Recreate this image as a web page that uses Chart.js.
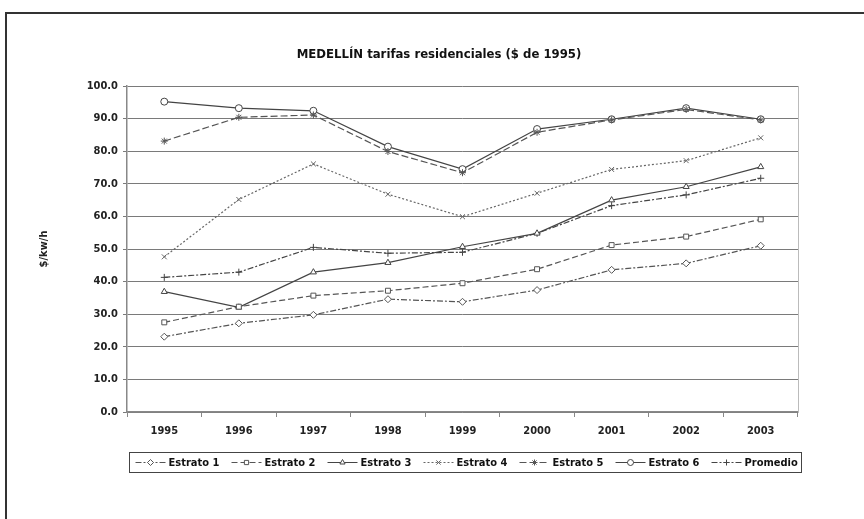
<!DOCTYPE html>
<html>
<head>
<meta charset="utf-8">
<script src="https://cdn.jsdelivr.net/npm/chart.js"></script>
<style>
body{margin:0;background:#fff;overflow:hidden}
#frame{position:absolute;left:5px;top:12px;width:900px;height:560px;border:2px solid #333}
#wrap{position:absolute;left:0;top:0;width:864px;height:519px}
</style>
</head>
<body>
<div id="frame"></div>
<div id="wrap"><canvas id="myChart"></canvas></div>
<script>
const years=['1995','1996','1997','1998','1999','2000','2001','2002','2003']
const estrato1=[23.1,27.2,29.8,34.6,33.8,37.4,43.6,45.6,51.0]
const estrato2=[27.5,32.3,35.7,37.2,39.5,43.8,51.2,53.8,59.1]
const estrato3=[36.9,32.1,42.9,45.8,50.7,54.8,65.0,69.1,75.2]
const estrato4=[47.6,65.2,76.1,66.8,59.9,67.1,74.4,77.1,84.1]
const estrato5=[83.1,90.4,91.1,79.9,73.4,85.8,89.6,92.8,89.6]
const estrato6=[95.2,93.2,92.4,81.4,74.5,86.8,89.8,93.2,89.8]
const promedio=[41.3,42.9,50.5,48.7,49.0,54.8,63.3,66.6,71.7]
const yTicks=[0,10,20,30,40,50,60,70,80,90,100]

const FONT="'Liberation Sans Narrow','DejaVu Sans Condensed','Arial Narrow',sans-serif"
Chart.defaults.font.family=FONT
Chart.defaults.font.weight='bold'
Chart.defaults.font.size=11
Chart.defaults.color='#222'

function serie(label,data,style,dash,color){
    return {
        label:label,
        data:data,
        borderColor:color,
        backgroundColor:'#fff',
        borderWidth:1.2,
        borderDash:dash,
        pointStyle:style,
        pointRadius:3.5,
        pointBorderColor:color,
        pointBackgroundColor:'#fff',
        pointBorderWidth:1,
        tension:0,
        fill:false
    }
}

// title, right border and legend box drawn by hand
const extras={
    id:'extras',
    afterDraw(chart){
        const ctx=chart.ctx
        const a=chart.chartArea
        ctx.save()
        ctx.strokeStyle='#bbb'
        ctx.lineWidth=1
        ctx.beginPath()
        ctx.moveTo(Math.round(a.right)+0.5,a.top)
        ctx.lineTo(Math.round(a.right)+0.5,a.bottom)
        ctx.stroke()

        ctx.fillStyle='#111'
        ctx.font='bold 13px '+FONT
        ctx.textAlign='center'
        ctx.textBaseline='middle'
        ctx.fillText('MEDELLÍN tarifas residenciales ($ de 1995)',439,55)

        // legend
        const bx=129.5, by=452.5, bw=672, bh=20
        ctx.strokeStyle='#444'
        ctx.lineWidth=1
        ctx.strokeRect(bx,by,bw,bh)
        const cy=by+bh/2
        ctx.font='bold 11px '+FONT
        ctx.textAlign='left'
        chart.data.datasets.forEach(function(ds,i){
            const x0=bx+6+i*96
            ctx.strokeStyle=ds.borderColor
            ctx.lineWidth=1
            ctx.setLineDash(ds.borderDash)
            ctx.beginPath()
            ctx.moveTo(x0,cy)
            ctx.lineTo(x0+30,cy)
            ctx.stroke()
            ctx.setLineDash([])
            ctx.fillStyle='#fff'
            Chart.helpers.drawPoint(ctx,{pointStyle:ds.pointStyle,radius:3,borderWidth:1,rotation:0},x0+15,cy)
            ctx.fillStyle='#111'
            ctx.fillText(ds.label,x0+33,cy+0.5)
        })
        ctx.restore()
    }
}

const chart=new Chart(document.getElementById('myChart').getContext('2d'),{
    type:'line',
    data:{
        labels:years,
        datasets:[
            serie('Estrato 1',estrato1,'rectRot',[6,2,2,2],'#555'),
            serie('Estrato 2',estrato2,'rect',[6,3],'#555'),
            serie('Estrato 3',estrato3,'triangle',[],'#444'),
            serie('Estrato 4',estrato4,'crossRot',[2,2],'#666'),
            serie('Estrato 5',estrato5,'star',[7,3],'#555'),
            serie('Estrato 6',estrato6,'circle',[],'#444'),
            serie('Promedio',promedio,'cross',[6,2,2,2],'#444')
        ]
    },
    options:{
        responsive:true,
        maintainAspectRatio:false,
        animation:false,
        layout:{padding:{left:38,right:66,top:86,bottom:77}},
        plugins:{
            legend:{display:false},
            title:{display:false},
            tooltip:{enabled:false}
        },
        scales:{
            x:{
                offset:true,
                grid:{offset:true,drawOnChartArea:false,drawTicks:true,tickLength:5,color:'#888',lineWidth:1},
                border:{color:'#888',width:1.5},
                ticks:{padding:8,font:{size:11,weight:'bold'},color:'#222',maxRotation:0},
                afterFit(scale){scale.height=30}
            },
            y:{
                min:0,
                max:100,
                afterBuildTicks(scale){scale.ticks=yTicks.map(v=>({value:v}))},
                grid:{color:'#7a7a7a',lineWidth:1,tickLength:4},
                border:{color:'#888',width:1.5},
                ticks:{padding:5,font:{size:11,weight:'bold'},color:'#222',callback:v=>v.toFixed(1)},
                title:{display:true,text:'$/kw/h',padding:0,font:{size:11,weight:'bold'},color:'#222'},
                afterFit(scale){scale.width=89}
            }
        }
    },
    plugins:[extras]
});
</script>
</body>
</html>
